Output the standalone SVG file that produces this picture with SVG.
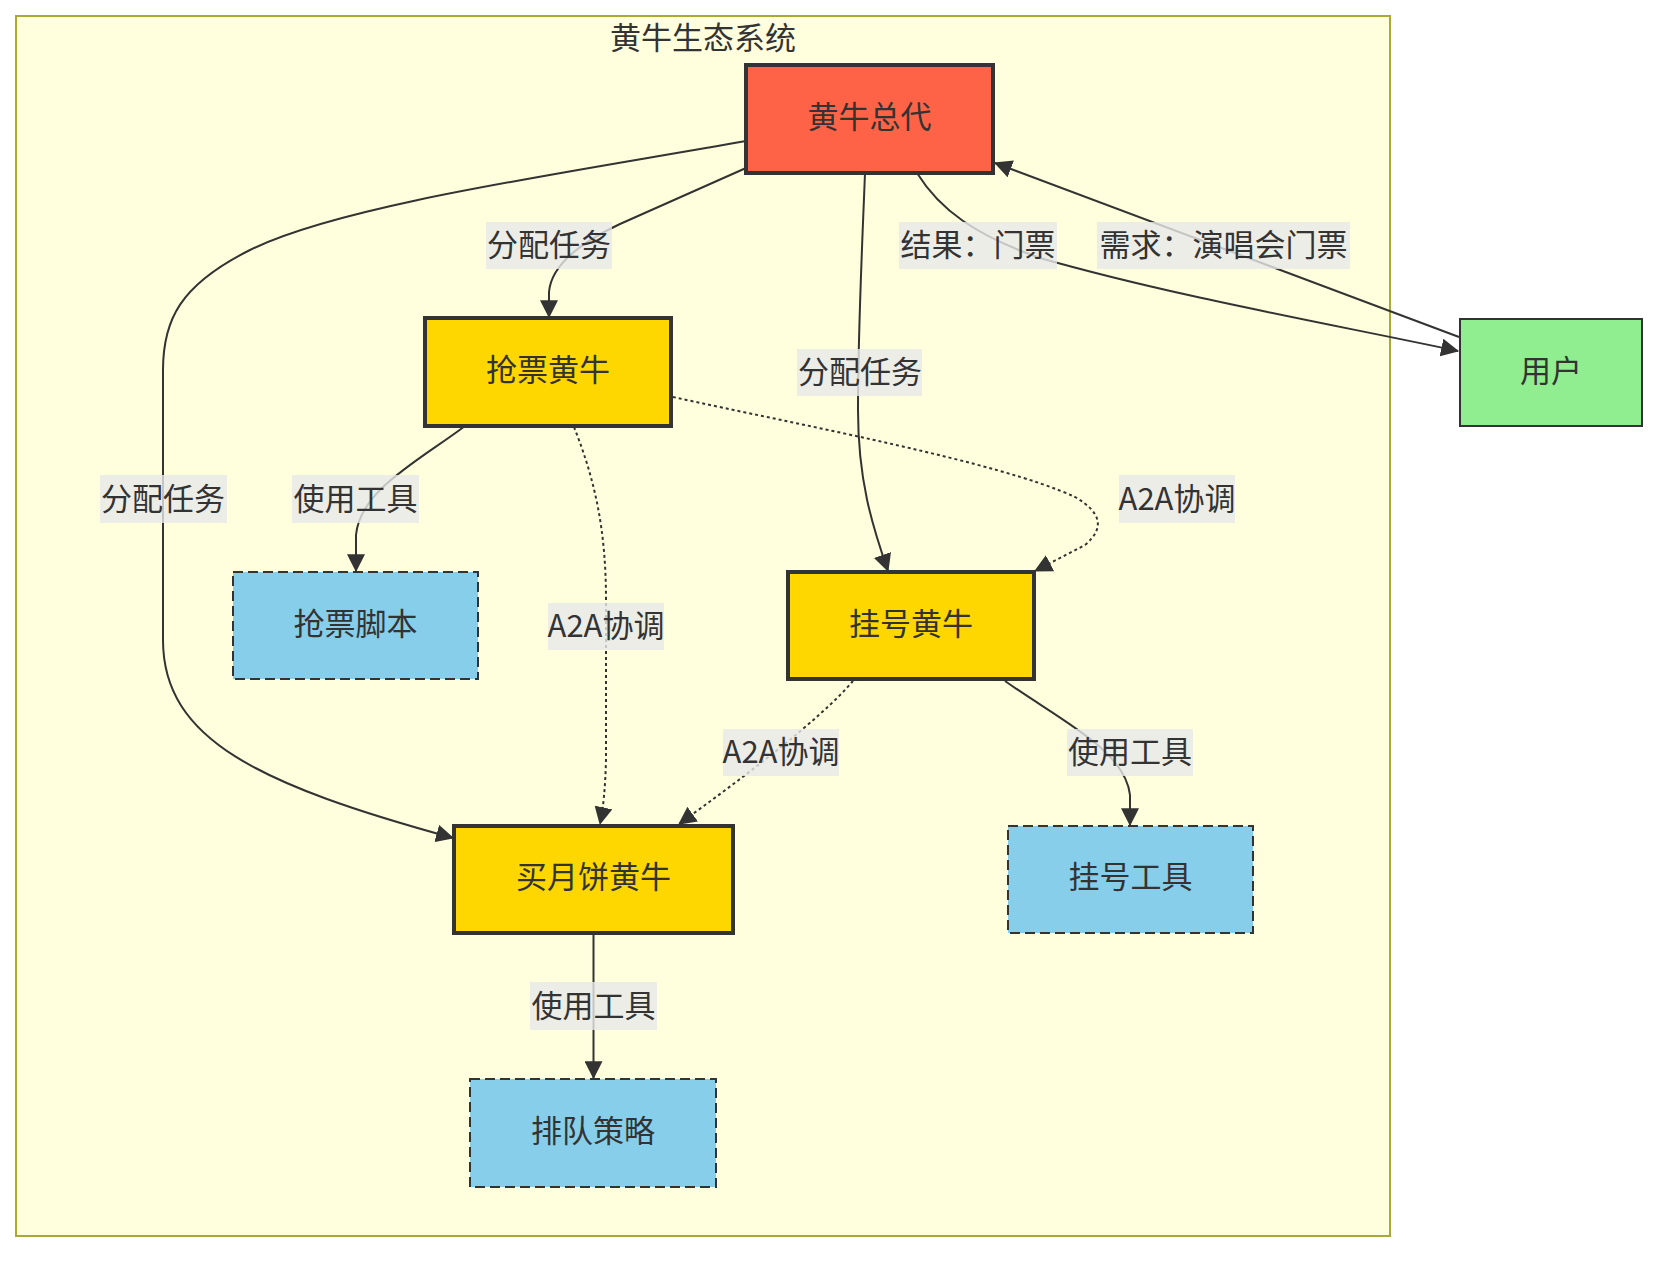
<svg xmlns="http://www.w3.org/2000/svg" width="1674" height="1264" viewBox="0 0 1674 1264">
<style>
text{font-family:"Noto Sans CJK SC","Noto Sans",sans-serif;fill:#333;font-size:31px;text-anchor:middle}
.edge{fill:none;stroke:#333;stroke-width:2}
.dot{stroke-dasharray:3 3}
.lbl{fill:#e8e8e8;fill-opacity:0.8}
.boss{fill:#FF6347;stroke:#333;stroke-width:4}
.agent{fill:#FFD700;stroke:#333;stroke-width:4}
.user{fill:#90EE90;stroke:#333;stroke-width:2}
.tool{fill:#87CEEB;stroke:#333;stroke-width:2;stroke-dasharray:10 5}
</style>
<defs>
<marker id="arr" markerUnits="userSpaceOnUse" markerWidth="18" markerHeight="18" viewBox="0 0 16 16" refX="15" refY="8" orient="auto">
<path d="M0,0 L16,8 L0,16 Z" fill="#333"/>
</marker>
</defs>
<rect x="0" y="0" width="1674" height="1264" fill="#fff"/>
<g id="cluster">
<rect x="16" y="16" width="1374" height="1220" fill="#FFFFDE" stroke="#AAAA33" stroke-width="2"/>
<text x="703" y="49">黄牛生态系统</text>
</g>
<g id="edges">
<path class="edge" marker-end="url(#arr)" d="M746,168 L620,224 Q552,256 549,292 L549,317"/>
<path class="edge" marker-end="url(#arr)" d="M865,173 C862,250 858,330 858,410 C858,480 872,525 888,571"/>
<path class="edge" marker-end="url(#arr)" d="M746,141 C560,174 340,205 250,250 C180,285 163,320 163,370 L163,640 C163,740 260,785 453,838"/>
<path class="edge" marker-end="url(#arr)" d="M917,173 C940,210 975,235 1040,258 C1170,295 1310,320 1458,351"/>
<path class="edge" marker-end="url(#arr)" d="M1459,337 L995,163"/>
<path class="edge" marker-end="url(#arr)" d="M465,426 C420,460 360,490 356,535 L356,571"/>
<path class="edge dot" marker-end="url(#arr)" d="M574,427 C595,480 606,530 606,600 L606,760 Q605,800 600,824"/>
<path class="edge dot" marker-end="url(#arr)" d="M673,397 C800,425 1000,462 1075,497 Q1115,520 1085,545 L1035,571"/>
<path class="edge dot" marker-end="url(#arr)" d="M853,681 C820,720 740,780 679,824"/>
<path class="edge" marker-end="url(#arr)" d="M1005,681 C1060,720 1125,750 1130,795 L1130,825"/>
<path class="edge" marker-end="url(#arr)" d="M593.5,933 L593.5,1078"/>
</g>
<g id="edge-labels">
<rect class="lbl" x="486" y="222" width="126" height="47"/><text x="549" y="256">分配任务</text>
<rect class="lbl" x="797" y="349" width="125" height="47"/><text x="860" y="383">分配任务</text>
<rect class="lbl" x="100" y="475" width="127" height="48"/><text x="163" y="510">分配任务</text>
<rect class="lbl" x="899" y="222" width="158" height="47"/><text x="978" y="256">结果：门票</text>
<rect class="lbl" x="1097" y="222" width="253" height="47"/><text x="1223.5" y="256">需求：演唱会门票</text>
<rect class="lbl" x="292" y="475" width="127" height="48"/><text x="355.5" y="510">使用工具</text>
<rect class="lbl" x="548" y="603" width="116" height="47"/><text x="606" y="637">A2A协调</text>
<rect class="lbl" x="1119" y="475" width="116" height="48"/><text x="1177" y="510">A2A协调</text>
<rect class="lbl" x="723" y="729" width="116" height="47"/><text x="781" y="763">A2A协调</text>
<rect class="lbl" x="1067" y="729" width="126" height="47"/><text x="1130" y="763">使用工具</text>
<rect class="lbl" x="530" y="982" width="127" height="48"/><text x="593.5" y="1017">使用工具</text>
</g>
<g id="node-boss"><rect class="boss" x="746" y="65" width="247" height="108"/><text x="869.5" y="127.5">黄牛总代</text></g>
<g id="node-user"><rect class="user" x="1460" y="319" width="182" height="107"/><text x="1551" y="382">用户</text></g>
<g id="node-grab"><rect class="agent" x="425" y="318" width="246" height="108"/><text x="548" y="381">抢票黄牛</text></g>
<g id="node-script"><rect class="tool" x="233" y="572" width="245" height="107"/><text x="355.5" y="635">抢票脚本</text></g>
<g id="node-reg"><rect class="agent" x="788" y="572" width="246" height="107"/><text x="911" y="635">挂号黄牛</text></g>
<g id="node-cake"><rect class="agent" x="454" y="826" width="279" height="107"/><text x="593.5" y="888">买月饼黄牛</text></g>
<g id="node-regtool"><rect class="tool" x="1008" y="826" width="245" height="107"/><text x="1130.5" y="888">挂号工具</text></g>
<g id="node-queue"><rect class="tool" x="470" y="1079" width="246" height="108"/><text x="593" y="1142">排队策略</text></g>
</svg>
